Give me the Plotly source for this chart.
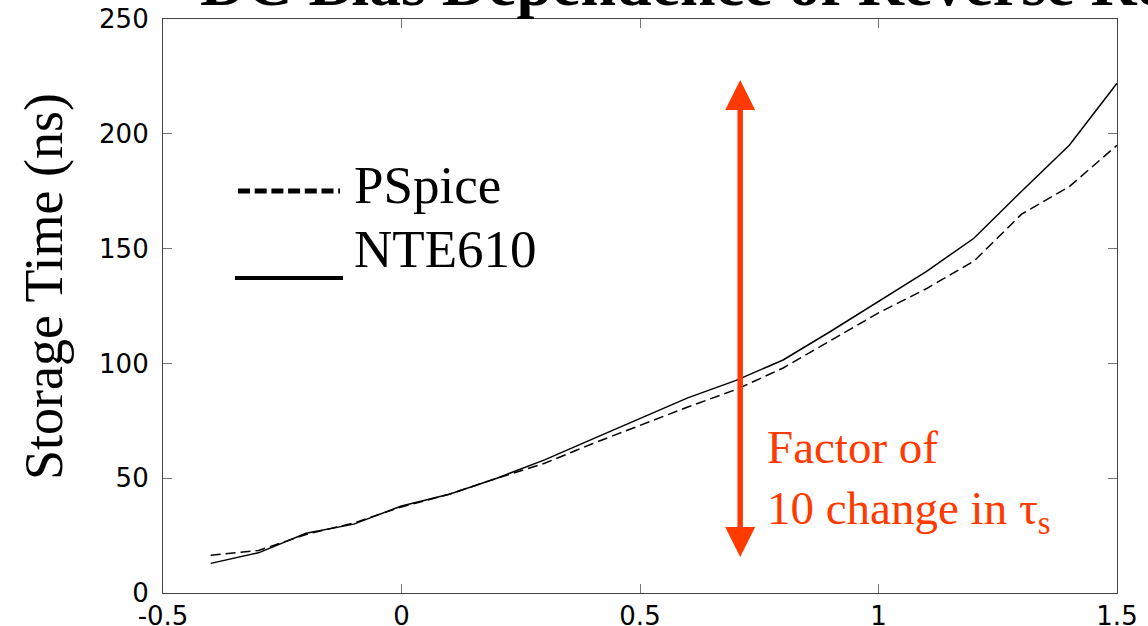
import plotly.graph_objects as go

# ---- data ----
bias_v = [-0.4, -0.3, -0.2, -0.1, 0.0, 0.1, 0.2, 0.3, 0.4, 0.5, 0.6, 0.7, 0.8, 0.9, 1.0, 1.1, 1.2, 1.3, 1.4, 1.5]
nte610_ns = [12.9, 17.5, 26.0, 30.0, 37.9, 43.0, 50.0, 58.0, 67.0, 76.0, 85.0, 92.5, 101.5, 114.0, 127.0, 140.0, 154.5, 175.0, 195.0, 222.0]
pspice_ns = [16.4, 18.5, 25.5, 30.5, 37.5, 43.0, 50.0, 56.5, 65.0, 73.0, 81.0, 88.5, 98.0, 110.0, 122.0, 132.5, 144.5, 165.0, 177.0, 195.0]
x_ticks = [-0.5, 0, 0.5, 1, 1.5]
x_tick_labels = ["-0.5", "0", "0.5", "1", "1.5"]
y_ticks = [0, 50, 100, 150, 200, 250]
y_tick_labels = ["0", "50", "100", "150", "200", "250"]

# ---- layout geometry (pixels) ----
W, H = 1148, 626
ML, MR, MT, MB = 163, 31, 19, 33
PW, PH = W - ML - MR, H - MT - MB
RED = "#FF3A00"
SERIF = "Liberation Serif, Times New Roman, serif"


def px_x(px):
    return (px - ML) / PW


def px_y(py):
    return (H - MB - py) / PH


# arrow (data coords) and head size (pixels)
ARROW_X = 0.71
ARROW_TOP = 223.4
ARROW_BOT = 15.7
HEAD_LEN_PX = 30
HEAD_HALF_W_PX = 15
x_per_px = 2.0 / PW
y_per_px = 250.0 / PH

fig = go.Figure()
fig.add_trace(go.Scatter(x=bias_v, y=pspice_ns, mode="lines", name="PSpice",
                         line=dict(color="black", width=1.5, dash="10px,5px")))
fig.add_trace(go.Scatter(x=bias_v, y=nte610_ns, mode="lines", name="NTE610",
                         line=dict(color="black", width=1.5)))

hx = HEAD_HALF_W_PX * x_per_px
hl = HEAD_LEN_PX * y_per_px
shapes = [
    dict(type="line", xref="x", yref="y", x0=ARROW_X, x1=ARROW_X,
         y0=ARROW_BOT + hl, y1=ARROW_TOP - hl, line=dict(color=RED, width=5.5)),
    dict(type="path", xref="x", yref="y",
         path=f"M {ARROW_X-hx},{ARROW_TOP-hl} L {ARROW_X},{ARROW_TOP} L {ARROW_X+hx},{ARROW_TOP-hl} Z",
         fillcolor=RED, line=dict(width=0)),
    dict(type="path", xref="x", yref="y",
         path=f"M {ARROW_X-hx},{ARROW_BOT+hl} L {ARROW_X},{ARROW_BOT} L {ARROW_X+hx},{ARROW_BOT+hl} Z",
         fillcolor=RED, line=dict(width=0)),
    # legend samples
    dict(type="line", xref="paper", yref="paper", x0=px_x(238), x1=px_x(340),
         y0=px_y(191), y1=px_y(191), line=dict(color="black", width=5, dash="12px,4.7px")),
    dict(type="line", xref="paper", yref="paper", x0=px_x(235), x1=px_x(343),
         y0=px_y(278), y1=px_y(278), line=dict(color="black", width=4)),
]

annotations = [
    dict(text="<b>DC Bias Dependence of Reverse Recovery</b>", xref="paper", yref="paper",
         x=px_x(198), y=px_y(7 + 64 * 0.216), xanchor="left", yanchor="bottom",
         showarrow=False, font=dict(family=SERIF, size=64, color="black")),
    dict(text="Storage Time (ns)", xref="paper", yref="paper", x=px_x(44), y=px_y(287),
         xanchor="center", yanchor="middle", textangle=-90, showarrow=False,
         font=dict(family=SERIF, size=54, color="black")),
    dict(text="PSpice", xref="paper", yref="paper", x=px_x(352), y=px_y(203 - 53 * 0.3375),
         xanchor="left", yanchor="middle", showarrow=False,
         font=dict(family=SERIF, size=53, color="black")),
    dict(text="NTE610", xref="paper", yref="paper", x=px_x(352), y=px_y(267 - 53 * 0.3375),
         xanchor="left", yanchor="middle", showarrow=False,
         font=dict(family=SERIF, size=53, color="black")),
    dict(text="Factor of", xref="paper", yref="paper", x=px_x(765), y=px_y(463 - 47 * 0.3375),
         xanchor="left", yanchor="middle", showarrow=False,
         font=dict(family=SERIF, size=47, color=RED)),
    dict(text="10 change in τ<sub>s</sub>", xref="paper", yref="paper", x=px_x(765),
         y=px_y(523 - 47 * 0.891 - 1), xanchor="left", yanchor="top", showarrow=False,
         font=dict(family=SERIF, size=47, color=RED)),
]

axis_common = dict(showgrid=False, zeroline=False, showline=True, linecolor="#444",
                   linewidth=1.2, mirror="ticks", ticks="inside", ticklen=9,
                   tickcolor="#777", tickwidth=1.2, automargin=False,
                   tickfont=dict(family="DejaVu Sans, Arial, sans-serif", size=26, color="black"))

fig.update_layout(
    width=W, height=H,
    margin=dict(l=ML, r=MR, t=MT, b=MB, pad=0, autoexpand=False),
    paper_bgcolor="white", plot_bgcolor="white",
    showlegend=False,
    xaxis=dict(range=[-0.5, 1.5], tickvals=x_ticks, ticktext=x_tick_labels,
               ticklabelstandoff=0, **axis_common),
    yaxis=dict(range=[0, 250], tickvals=y_ticks, ticktext=y_tick_labels,
               ticklabelstandoff=8, **axis_common),
    shapes=shapes,
    annotations=annotations,
)

fig.write_html("out.html", config={"displayModeBar": False},
               post_script="document.body.style.margin='0';document.body.style.overflow='hidden';")
